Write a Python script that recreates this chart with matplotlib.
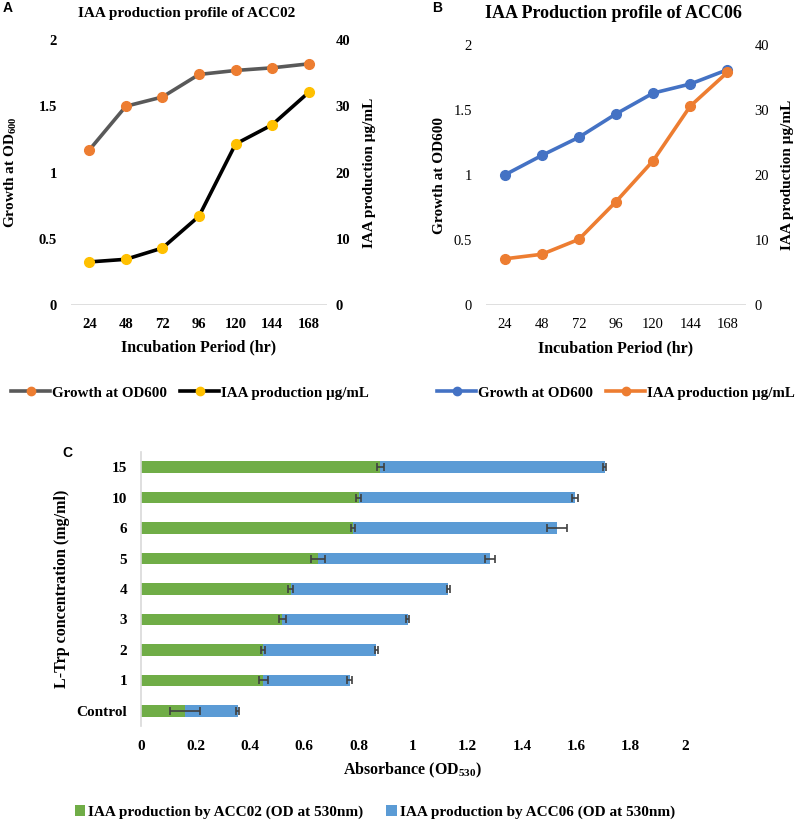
import matplotlib
matplotlib.use("Agg")
import matplotlib.pyplot as plt
from matplotlib.lines import Line2D
import numpy as np

plt.rcParams['font.family'] = ['Liberation Serif', 'DejaVu Serif']
plt.rcParams['mathtext.fontset'] = 'custom'
plt.rcParams['mathtext.rm'] = 'Liberation Serif:bold'
plt.rcParams['mathtext.it'] = 'Liberation Serif:italic:bold'
plt.rcParams['mathtext.bf'] = 'Liberation Serif:bold'

# ---------------- data ----------------
hours = ["24", "48", "72", "96", "120", "144", "168"]
growth_acc02 = [1.17, 1.50, 1.57, 1.74, 1.77, 1.79, 1.82]
iaa_acc02 = [6.5, 6.9, 8.6, 13.4, 24.3, 27.2, 32.1]
growth_acc06 = [1.00, 1.15, 1.29, 1.47, 1.63, 1.70, 1.81]
iaa_acc06 = [7.1, 7.8, 10.1, 15.9, 22.2, 30.6, 35.8]

trp_levels = ["Control", "1", "2", "3", "4", "5", "6", "10", "15"]
abs_acc02 = [0.163, 0.45, 0.45, 0.52, 0.55, 0.65, 0.78, 0.80, 0.88]
abs_acc06 = [0.192, 0.317, 0.415, 0.46, 0.58, 0.633, 0.75, 0.795, 0.825]
err_acc02 = [0.055, 0.018, 0.007, 0.012, 0.010, 0.025, 0.008, 0.008, 0.012]
err_acc06 = [0.005, 0.008, 0.006, 0.006, 0.006, 0.017, 0.037, 0.012, 0.006]

# ---------------- figure ----------------
W, H = 800, 822
fig = plt.figure(figsize=(W / 100, H / 100), dpi=100)

def fr(x0, y_top, x1, y_bot):
    return [x0 / W, 1 - y_bot / H, (x1 - x0) / W, (y_bot - y_top) / H]

GRAY0 = '#D9D9D9'

def line_panel(rect, g, iaa, gcol, gmk, icol, imk, bold_ticks,
               ylab, lx, rx, xly, leg_x):
    ax = fig.add_axes(rect)
    x = np.arange(len(hours))
    ax.set_xlim(-0.5, len(hours) - 0.5)
    ax.set_ylim(0, 2)
    ax.set_yticks([0, 0.5, 1, 1.5, 2])
    ax.set_yticklabels(["0", "0.5", "1", "1.5", "2"])
    for s in ax.spines.values():
        s.set_visible(False)
    ax.axhline(0, color=GRAY0, lw=1.2, zorder=1)
    ax.set_xticks(x)
    ax.set_xticklabels(hours)
    fw = 'bold' if bold_ticks else 'normal'
    ax.tick_params(axis='both', length=0, labelsize=10.5)
    ax.tick_params(axis='y', pad=10)
    ax.tick_params(axis='x', pad=9)
    for t in ax.get_xticklabels() + ax.get_yticklabels():
        t.set_fontweight(fw)
    ax.plot(x, g, color=gcol, lw=2.6, marker='o', ms=7, mfc=gmk, mec=gmk, zorder=3)
    ax.set_ylabel(ylab, fontsize=11, fontweight='bold')
    ax.yaxis.set_label_coords(lx, 0.5)
    ax.set_xlabel("Incubation Period (hr)", fontsize=11.5, fontweight='bold')
    ax.xaxis.set_label_coords(0.5, xly)

    ax2 = ax.twinx()
    ax2.set_ylim(0, 40)
    ax2.set_yticks([0, 10, 20, 30, 40])
    for s in ax2.spines.values():
        s.set_visible(False)
    ax2.tick_params(axis='y', length=0, labelsize=10.5, pad=6)
    for t in ax2.get_yticklabels():
        t.set_fontweight(fw)
    ax2.plot(x, iaa, color=icol, lw=2.6, marker='o', ms=7, mfc=imk, mec=imk, zorder=3)
    ax2.set_ylabel("IAA production µg/mL", fontsize=11, fontweight='bold')
    ax2.yaxis.set_label_coords(rx, 0.5)

    h1 = Line2D([], [], color=gcol, lw=2.6, marker='o', ms=6, mfc=gmk, mec=gmk)
    h2 = Line2D([], [], color=icol, lw=2.6, marker='o', ms=6, mfc=imk, mec=imk)
    fig.legend([h1, h2], ["Growth at OD600", "IAA production µg/mL"],
               loc='center', bbox_to_anchor=(leg_x, 1 - 393 / H), ncol=2,
               frameon=False, prop={'weight': 'bold', 'size': 10.8},
               handlelength=2.6, handletextpad=0.1, columnspacing=0.9, numpoints=1)
    return ax

axA = line_panel(fr(71, 40, 327, 305), growth_acc02, iaa_acc02,
                 '#595959', '#ED7D31', '#000000', '#FFC000', True,
                 "Growth at OD$_{600}$", (19 - 71) / 256, (363 - 71) / 256,
                 (305 - 339) / 265, 190 / W)
fig.text(187 / W, 1 - 13 / H, "IAA production profile of ACC02", ha='center', va='center',
         fontsize=11, fontweight='bold')

axB = line_panel(fr(486, 45, 746, 305), growth_acc06, iaa_acc06,
                 '#4472C4', '#4472C4', '#ED7D31', '#ED7D31', False,
                 "Growth at OD600", (446 - 486) / 260, (781 - 486) / 260,
                 (305 - 340) / 260, 616 / W)
fig.text(613 / W, 1 - 14 / H, "IAA Production profile of ACC06", ha='center', va='center',
         fontsize=13, fontweight='bold')

# ---------------- panel C ----------------
axC = fig.add_axes(fr(141, 452, 685, 726))
y = np.arange(len(trp_levels))
green = '#70AD47'
blue = '#5B9BD5'
axC.barh(y, abs_acc02, height=0.38, color=green, label="IAA production by ACC02 (OD at 530nm)", zorder=2)
axC.barh(y, abs_acc06, left=abs_acc02, height=0.38, color=blue,
         label="IAA production by ACC06 (OD at 530nm)", zorder=2)
tot = np.array(abs_acc02) + np.array(abs_acc06)
axC.errorbar(abs_acc02, y, xerr=err_acc02, fmt='none', ecolor='#404040', elinewidth=1.2,
             capsize=3, capthick=1.2, zorder=3)
axC.errorbar(tot, y, xerr=err_acc06, fmt='none', ecolor='#404040', elinewidth=1.2,
             capsize=3, capthick=1.2, zorder=3)
axC.set_xlim(0, 2)
axC.set_ylim(-0.5, len(trp_levels) - 0.5)
axC.set_xticks(np.arange(0, 2.01, 0.2))
axC.set_xticklabels(["0", "0.2", "0.4", "0.6", "0.8", "1", "1.2", "1.4", "1.6", "1.8", "2"])
axC.set_yticks(y)
axC.set_yticklabels(trp_levels)
for s in ['top', 'right', 'bottom']:
    axC.spines[s].set_visible(False)
axC.spines['left'].set_color(GRAY0)
axC.spines['left'].set_linewidth(1.2)
axC.tick_params(axis='both', length=0, labelsize=11)
axC.tick_params(axis='x', pad=10)
axC.tick_params(axis='y', pad=10)
for t in axC.get_xticklabels() + axC.get_yticklabels():
    t.set_fontweight('bold')
axC.set_ylabel("L-Trp concentration (mg/ml)", fontsize=11.5, fontweight='bold')
axC.yaxis.set_label_coords((70 - 141) / 544, 0.5)
axC.set_xlabel("Absorbance (OD$_{530}$)", fontsize=11.5, fontweight='bold')
axC.xaxis.set_label_coords(0.5, (726 - 761) / 274)
fig.legend(loc='center', bbox_to_anchor=(375 / W, 1 - 812 / H), ncol=2, frameon=False,
           prop={'weight': 'bold', 'size': 11}, handlelength=0.7, handleheight=0.7,
           handletextpad=0.2, columnspacing=1.5)

# panel letters
for txt, px, py in [("A", 3, 8), ("B", 432, 8), ("C", 62, 453)]:
    fig.text(px / W, 1 - py / H, txt, ha='left', va='center', fontsize=10,
             fontweight='bold', family='Liberation Sans')

fig.savefig("out.png", dpi=100)
